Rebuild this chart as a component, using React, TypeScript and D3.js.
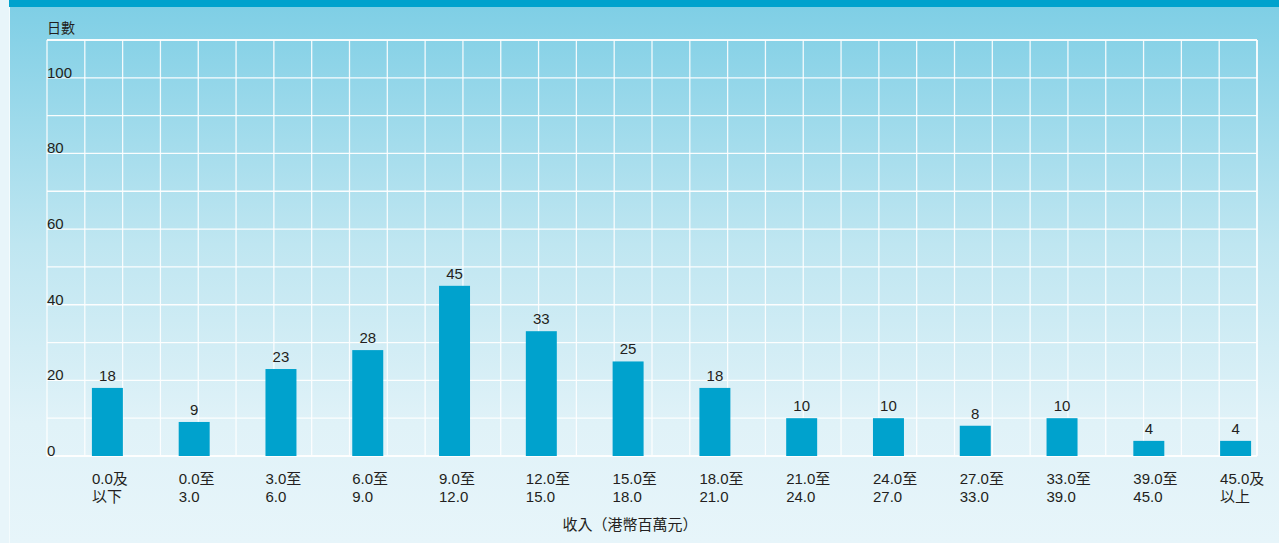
import React from "react";
import * as d3 from "d3";

const categories = [
  "0.0及以下", "0.0至3.0", "3.0至6.0", "6.0至9.0", "9.0至12.0", "12.0至15.0", "15.0至18.0",
  "18.0至21.0", "21.0至24.0", "24.0至27.0", "27.0至33.0", "33.0至39.0", "39.0至45.0", "45.0及以上",
];
const labelLine1 = ["0.0及", "0.0至", "3.0至", "6.0至", "9.0至", "12.0至", "15.0至", "18.0至", "21.0至", "24.0至", "27.0至", "33.0至", "39.0至", "45.0及"];
const labelLine2 = ["以下", "3.0", "6.0", "9.0", "12.0", "15.0", "18.0", "21.0", "24.0", "27.0", "33.0", "39.0", "45.0", "以上"];
const values = [18, 9, 23, 28, 45, 33, 25, 18, 10, 10, 8, 10, 4, 4];
const yTicks = [0, 20, 40, 60, 80, 100];
const yTitle = "日數";
const xTitle = "收入（港幣百萬元）";

const W = 1279;
const H = 543;
const FONT = "'Liberation Sans', Arial, 'Noto Sans CJK TC', sans-serif";

export default function App() {
  const plotL = 47, plotR = 1257, plotT = 40, plotB = 456;
  const y = d3.scaleLinear().domain([0, 110]).range([plotB, plotT]);
  const gx = d3.scaleLinear().domain([0, 32]).range([plotL, plotR]);
  const x = d3.scaleBand<string>().domain(categories).range([64, 1279]).paddingInner(0.643).paddingOuter(0.3215);
  const hGrid = d3.range(0, 111, 10);
  const vGrid = d3.range(0, 33, 1);
  const textColor = "#231f20";

  return (
    <>
      <style>{`body{margin:0;}`}</style>
      <svg width={W} height={H} style={{ position: "absolute", left: 0, top: 0, display: "block" }} fontFamily={FONT}>
        <defs>
          <linearGradient id="bg" x1="0" y1="0" x2="0" y2="1">
            <stop offset="0" stopColor="#7dcee5" />
            <stop offset="0.45" stopColor="#bfe6f1" />
            <stop offset="0.78" stopColor="#e0f2f8" />
            <stop offset="1" stopColor="#e7f5fa" />
          </linearGradient>
        </defs>
        <rect x={0} y={0} width={W} height={H} fill="#e8f5fa" />
        <rect x={10} y={0} width={W - 10} height={H} fill="url(#bg)" />
        <line x1={9.5} x2={9.5} y1={0} y2={H} stroke="#f4fbfd" strokeWidth={1} />
        <rect x={9} y={0} width={W - 9} height={7} fill="#00a2cd" />

        {hGrid.map((v) => (
          <line key={"h" + v} x1={plotL} x2={plotR} y1={y(v)} y2={y(v)} stroke="#ffffff" strokeWidth={v === 110 || v === 0 ? 2 : 1.3} opacity={0.95} />
        ))}
        {vGrid.map((v) => (
          <line key={"v" + v} x1={gx(v)} x2={gx(v)} y1={plotT} y2={plotB} stroke="#ffffff" strokeWidth={v === 32 ? 2 : 1.3} opacity={0.9} />
        ))}

        {categories.map((c, i) => (
          <rect key={"b" + i} x={x(c)} y={y(values[i])} width={x.bandwidth()} height={y(0) - y(values[i])} fill="#00a2cd" />
        ))}
        {categories.map((c, i) => (
          <text key={"t" + i} x={(x(c) as number) + x.bandwidth() / 2} y={y(values[i]) - 7} textAnchor="middle" fontSize={15} fill={textColor}>
            {values[i]}
          </text>
        ))}

        {yTicks.map((v) => (
          <text key={"y" + v} x={plotL} y={y(v)} fontSize={15} fill={textColor}>
            {v}
          </text>
        ))}
        <text x={plotL} y={33} fontSize={14} fill={textColor}>{yTitle}</text>

        {categories.map((c, i) => (
          <g key={"xl" + i} fontSize={15} fill={textColor}>
            <text x={x(c)} y={484}>{labelLine1[i]}</text>
            <text x={x(c)} y={502}>{labelLine2[i]}</text>
          </g>
        ))}
        <text x={630} y={530} textAnchor="middle" fontSize={15} fill={textColor}>{xTitle}</text>
      </svg>
    </>
  );
}
